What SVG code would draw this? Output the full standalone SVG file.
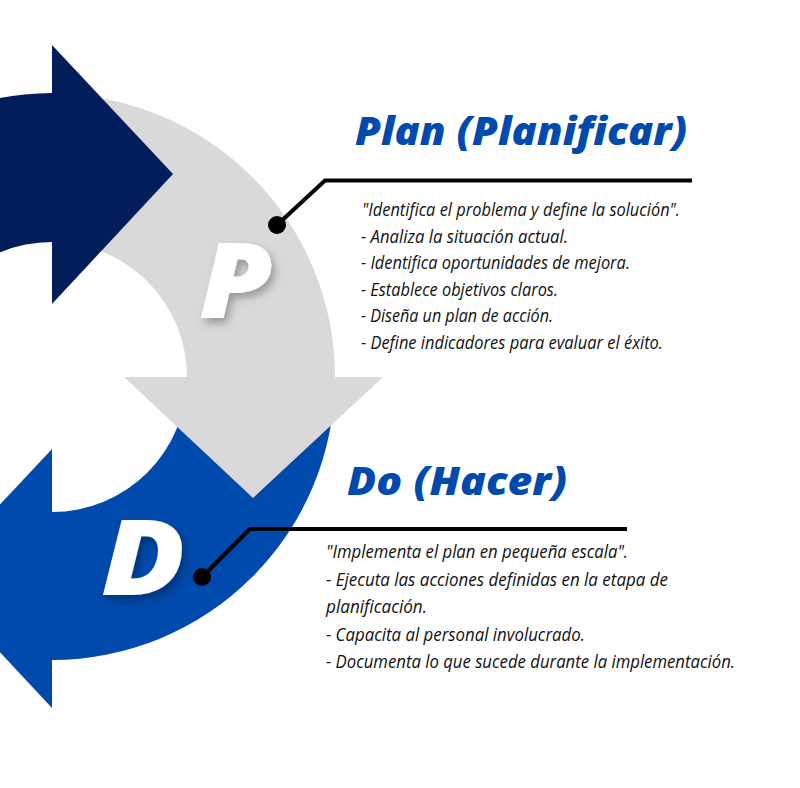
<svg xmlns="http://www.w3.org/2000/svg" width="800" height="788" viewBox="0 0 800 788">
<defs>
<style>
.title{font-family:"Open Sans","Liberation Sans",sans-serif;font-weight:800;font-style:italic;font-size:39px;fill:#004AAD}
.body{font-family:"Open Sans","Liberation Sans",sans-serif;font-style:italic;font-weight:400;font-size:18px;fill:#111111}
.letter{font-family:"Open Sans","Liberation Sans",sans-serif;font-weight:800;font-style:italic;font-size:105px;fill:#ffffff}
.conn{fill:none;stroke:#000000;stroke-width:4;stroke-linejoin:miter}
.dot{fill:#000000}
</style>
<filter id="sh" x="-30%" y="-30%" width="160%" height="160%">
<feDropShadow dx="3" dy="5" stdDeviation="4" flood-color="#000000" flood-opacity="0.3"/>
</filter>
</defs>
<rect width="800" height="788" fill="#ffffff"/>
<g id="node-do-arrow">
<path d="M 335 377 A 283 283 0 0 1 52 660 L 52 708 L -69 578 L 52 449 L 52 512 A 135 135 0 0 0 187 377 Z" fill="#004AAD"/>
</g>
<g id="node-plan-arrow">
<path d="M 52 94 A 283 283 0 0 1 335 377 L 383 377 L 253 498 L 124 377 L 187 377 A 135 135 0 0 0 52 242 Z" fill="#D9D9D9"/>
</g>
<g id="node-act-arrow">
<path d="M 52 93 L 52 45 L 173 174 L 52 304 L 52 242 A 135 135 0 0 0 -83 377 L -231 377 A 284 284 0 0 1 52 93 Z" fill="#021E5A"/>
</g>
<g id="connectors">
<polyline class="conn" points="277,225 325,180.5 692,180.5"/>
<circle class="dot" cx="277" cy="225" r="9"/>
<polyline class="conn" points="202,577 250,529 627,529"/>
<circle class="dot" cx="202" cy="577" r="9"/>
</g>
<g id="node-plan">
<text class="letter" transform="translate(199,318) scale(1.13,1)" filter="url(#sh)">P</text>
<text class="title" x="355" y="145" textLength="332" lengthAdjust="spacingAndGlyphs">Plan (Planificar)</text>
<text class="body" x="362" y="216" textLength="318" lengthAdjust="spacingAndGlyphs">"Identifica el problema y define la solución".</text>
<text class="body" x="361" y="243" textLength="207" lengthAdjust="spacingAndGlyphs">- Analiza la situación actual.</text>
<text class="body" x="361" y="269" textLength="269" lengthAdjust="spacingAndGlyphs">- Identifica oportunidades de mejora.</text>
<text class="body" x="361" y="296" textLength="197" lengthAdjust="spacingAndGlyphs">- Establece objetivos claros.</text>
<text class="body" x="361" y="322" textLength="192" lengthAdjust="spacingAndGlyphs">- Diseña un plan de acción.</text>
<text class="body" x="361" y="349" textLength="302" lengthAdjust="spacingAndGlyphs">- Define indicadores para evaluar el éxito.</text>
</g>
<g id="node-do">
<text class="letter" transform="translate(101,595) scale(1.18,1)" filter="url(#sh)">D</text>
<text class="title" x="347" y="495" textLength="220" lengthAdjust="spacingAndGlyphs">Do (Hacer)</text>
<text class="body" x="326" y="558" textLength="302" lengthAdjust="spacingAndGlyphs">"Implementa el plan en pequeña escala".</text>
<text class="body" x="326" y="586" textLength="342" lengthAdjust="spacingAndGlyphs">- Ejecuta las acciones definidas en la etapa de</text>
<text class="body" x="326" y="613" textLength="101" lengthAdjust="spacingAndGlyphs">planificación.</text>
<text class="body" x="326" y="641" textLength="259" lengthAdjust="spacingAndGlyphs">- Capacita al personal involucrado.</text>
<text class="body" x="326" y="668" textLength="409" lengthAdjust="spacingAndGlyphs">- Documenta lo que sucede durante la implementación.</text>
</g>
</svg>
